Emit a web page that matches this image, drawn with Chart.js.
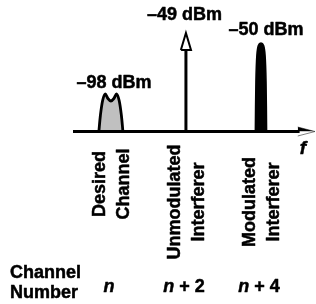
<!DOCTYPE html>
<html>
<head>
<meta charset="utf-8">
<script src="https://cdn.jsdelivr.net/npm/chart.js"></script>
<style>
  html, body { margin: 0; padding: 0; background: #fff; }
  #wrap { width: 316px; height: 304px; }
</style>
</head>
<body>
<div id="wrap"><canvas id="spectrum" width="316" height="304"></canvas></div>
<script>
// channel positions, counted from n
const channels = [0, 2, 4];
const channelLabels = ['n', 'n + 2', 'n + 4'];
const powerLabels = ['–98 dBm', '–49 dBm', '–50 dBm'];
const signalNames = [['Desired', 'Channel'], ['Unmodulated', 'Interferer'], ['Modulated', 'Interferer']];

// sketched spectrum shapes: offset from channel centre, drawn height
const desiredOffsets = [-0.32, -0.28, -0.22, -0.15, -0.08, 0, 0.08, 0.15, 0.22, 0.28, 0.32];
const desiredHeights = [0, 16, 31, 37.5, 33, 30.5, 33, 37.5, 31, 16, 0];
const toneHeight = 98.5;
const modOffsets = [-0.15, -0.135, -0.11, -0.07, 0, 0.07, 0.11, 0.135, 0.15];
const modHeights = [0, 50, 76, 86, 88.5, 86, 76, 50, 0];

const FONT = '"Liberation Sans", Arial, sans-serif';
const headLen = 17, headHalf = 0.135;
const axisEnd = 5.44, axisHead = 4.98, axisHalf = 4.5;

function shape(center, offs, hts) {
  return offs.map((o, i) => ({ x: center + o, y: hts[i] }));
}

const base = {
  showLine: true, pointRadius: 0, clip: false, borderColor: '#000', fill: false
};

// fake bold: draw text with a thin outline to thicken the strokes
function boldText(ctx, s, x, y) {
  ctx.fillText(s, x, y);
  ctx.strokeText(s, x, y);
}

const labelsPlugin = {
  id: 'labels',
  afterDraw(chart) {
    const ctx = chart.ctx;
    const xs = chart.scales.x, ys = chart.scales.y;
    const peaks = [Math.max(...desiredHeights), toneHeight, Math.max(...modHeights)];
    const lift = [6, 13, 8];
    const shift = [3, -1.5, 5];
    ctx.save();
    ctx.fillStyle = '#000';
    ctx.strokeStyle = '#000';
    ctx.lineWidth = 0.5;
    ctx.lineJoin = 'round';
    ctx.font = 'bold 18px ' + FONT;
    ctx.textAlign = 'center';
    ctx.textBaseline = 'alphabetic';
    channels.forEach((c, i) => {
      const px = xs.getPixelForValue(c);
      boldText(ctx, powerLabels[i], px + shift[i], ys.getPixelForValue(peaks[i]) - lift[i]);
    });

    // rotated signal names
    const midY = [184, 202, 202];
    channels.forEach((c, i) => {
      const px = xs.getPixelForValue(c) + 1.5;
      signalNames[i].forEach((line, j) => {
        ctx.save();
        ctx.translate(px + (j === 0 ? -12 : 12), midY[i]);
        ctx.rotate(-Math.PI / 2);
        ctx.textBaseline = 'middle';
        boldText(ctx, line, 0, 0);
        ctx.restore();
      });
    });

    // axis name
    ctx.font = 'italic bold 19px ' + FONT;
    boldText(ctx, 'f', 303, 154);

    // channel numbers
    ctx.textAlign = 'left';
    ctx.font = 'bold 18px ' + FONT;
    boldText(ctx, 'Channel', 10, 278);
    boldText(ctx, 'Number', 10, 298);
    channels.forEach((c, i) => {
      const px = xs.getPixelForValue(c) - 2;
      const label = channelLabels[i];
      const cut = label.indexOf(' ');
      const head = cut < 0 ? label : label.slice(0, cut);
      const rest = cut < 0 ? '' : label.slice(cut);
      ctx.font = 'italic bold 18px ' + FONT;
      const w0 = ctx.measureText(head).width;
      ctx.font = 'bold 18px ' + FONT;
      const w1 = rest ? ctx.measureText(rest).width : 0;
      const x = px - (w0 + w1) / 2;
      ctx.font = 'italic bold 18px ' + FONT;
      boldText(ctx, head, x, 292);
      if (rest) {
        ctx.font = 'bold 18px ' + FONT;
        boldText(ctx, rest, x + w0, 292);
      }
    });
    ctx.restore();
  }
};

new Chart(document.getElementById('spectrum'), {
  type: 'scatter',
  data: {
    datasets: [
      // frequency axis and its arrow head (two filled halves)
      Object.assign({}, base, {
        data: [{ x: -1.01, y: 0 }, { x: axisHead + 0.05, y: 0 }],
        borderWidth: 2.8
      }),
      Object.assign({}, base, {
        data: [{ x: axisHead, y: axisHalf }, { x: axisEnd, y: 0 }],
        borderWidth: 0.5, backgroundColor: '#000', fill: 'origin'
      }),
      Object.assign({}, base, {
        data: [{ x: axisHead, y: -axisHalf }, { x: axisEnd, y: 0 }],
        borderWidth: 0.5, backgroundColor: '#000', fill: 'origin'
      }),
      // desired channel
      Object.assign({}, base, {
        data: shape(channels[0], desiredOffsets, desiredHeights),
        borderWidth: 2.8, backgroundColor: '#c0c0c0', fill: 'origin', tension: 0.3
      }),
      // unmodulated interferer: stem + open arrow head
      Object.assign({}, base, {
        data: [{ x: channels[1], y: 0 }, { x: channels[1], y: toneHeight - headLen }],
        borderWidth: 3
      }),
      Object.assign({}, base, {
        data: [
          { x: channels[1] - headHalf, y: toneHeight - headLen },
          { x: channels[1], y: toneHeight },
          { x: channels[1] + headHalf, y: toneHeight - headLen },
          { x: channels[1] - headHalf, y: toneHeight - headLen }
        ],
        borderWidth: 2, borderJoinStyle: 'miter'
      }),
      // modulated interferer
      Object.assign({}, base, {
        data: shape(channels[2], modOffsets, modHeights),
        borderWidth: 1.5, backgroundColor: '#000', fill: 'origin', tension: 0.35
      })
    ]
  },
  options: {
    responsive: false,
    animation: false,
    layout: { padding: { left: 73, right: 1, top: 31.5, bottom: 172.5 } },
    scales: {
      x: { type: 'linear', display: false, min: -1.01, max: axisEnd },
      y: { type: 'linear', display: false, min: 0, max: 100 }
    },
    plugins: { legend: { display: false }, tooltip: { enabled: false } }
  },
  plugins: [labelsPlugin]
});
</script>
</body>
</html>
